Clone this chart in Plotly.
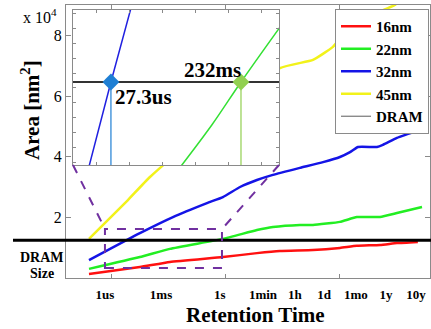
import plotly.graph_objects as go
import math

# x values: log10(retention time in seconds); y values: area in nm^2
red_x = [-7.21, -4.53, -2.95, -0.16, 1.63, 2.84, 4.58, 6.0, 6.89, 8.11, 9.0, 10.1]
red_y = [1300, 3600, 5300, 6900, 8200, 8900, 9200, 9900, 10600, 10900, 11500, 11900]

green_x = [-7.21, -4.53, -2.95, -0.16, 1.63, 2.47, 3.89, 4.58, 6.0, 6.89, 8.11, 9.0, 10.32]
green_y = [3000, 6900, 9600, 12900, 15800, 16800, 17500, 17500, 18500, 20100, 20100, 21400, 23400]

blue_x = [-7.21, -4.53, -2.79, -1.0, -0.16, 0.74, 1.63, 2.47, 3.89, 5.11, 6.0, 6.53, 6.95, 7.95, 8.26, 9.0, 10.32]
blue_y = [5900, 14800, 20100, 24700, 26700, 30000, 32300, 34000, 36300, 38200, 39900, 41500, 43200, 43200, 43900, 46200, 49100]

yellow_x = [-7.21, -5.16, -4.0, 2.84, 4.58, 5.63, 6.26, 7.42, 8.89, 9.16]
yellow_y = [12900, 25700, 33300, 69200, 71900, 76200, 80800, 86100, 90000, 91700]

dram_area = 12460

# inset (zoomed) data
inset_blue_x = [-5.26, math.log10(27.3e-6), -3.94]
inset_blue_y = [9500, dram_area, 15000]
inset_green_x = [-2.45, -1.5, math.log10(0.232), 0.55]
inset_green_y = [9650, 11050, dram_area, 14300]
cross_x = [math.log10(27.3e-6), math.log10(0.232)]
cross_labels = ["27.3us", "232ms"]

tick_labels = ["1us", "1ms", "1s", "1min", "1h", "1d", "1mo", "1y", "10y"]
tick_pos = [-6.37, -3.42, -0.32, 1.95, 3.63, 5.16, 6.84, 8.42, 10.0]

SERIF = "Liberation Serif"
GRAY = "#8a8a8a"

fig = go.Figure()
series = [("16nm", red_x, red_y, "#ff1010"), ("22nm", green_x, green_y, "#22ee22"),
          ("32nm", blue_x, blue_y, "#1414e6"), ("45nm", yellow_x, yellow_y, "#f2f21a")]
for name, xs, ys, c in series:
    fig.add_trace(go.Scatter(x=xs, y=ys, mode="lines", name=name,
                             line=dict(color=c, width=2.5, shape="spline", smoothing=0.4),
                             xaxis="x", yaxis="y"))
fig.add_trace(go.Scatter(x=[None], y=[None], mode="lines", name="DRAM",
                         line=dict(color="#777777", width=1.2), xaxis="x", yaxis="y"))

# inset
x2_range = [-5.71, 0.514]
y2_range = [9693, 14860]
fig.add_trace(go.Scatter(x=x2_range, y=[dram_area, dram_area], mode="lines", showlegend=False,
                         line=dict(color="#333333", width=2), xaxis="x2", yaxis="y2"))
fig.add_trace(go.Scatter(x=inset_blue_x, y=inset_blue_y, mode="lines", showlegend=False,
                         line=dict(color="#2020e0", width=1.5), xaxis="x2", yaxis="y2"))
fig.add_trace(go.Scatter(x=inset_green_x, y=inset_green_y, mode="lines", showlegend=False,
                         line=dict(color="#33e033", width=1.5, shape="spline"), xaxis="x2", yaxis="y2"))
mk_colors = ["#1f7fd4", "#92d050"]
for cx, mc in zip(cross_x, mk_colors):
    fig.add_trace(go.Scatter(x=[cx, cx], y=[y2_range[0] - 500, dram_area], mode="lines", showlegend=False,
                             line=dict(color=mc, width=1.2), xaxis="x2", yaxis="y2"))
fig.add_trace(go.Scatter(x=cross_x, y=[dram_area, dram_area], mode="markers", showlegend=False,
                         marker=dict(symbol="diamond", size=13, color=mk_colors), xaxis="x2", yaxis="y2"))

L, R, T, B = 66, 1, 5, 51
W, H = 431, 329
pw, ph = W - L - R, H - T - B
def px(xp):
    return (xp - L) / pw
def py(yp):
    return (H - B - yp) / ph

fig.update_layout(
    width=W, height=H, margin=dict(l=L, r=R, t=T, b=B, autoexpand=False),
    paper_bgcolor="white", plot_bgcolor="white",
    font=dict(family=SERIF, color="black"),
    showlegend=True,
    legend=dict(x=px(429), y=py(9), xanchor="right", yanchor="top",
                bgcolor="white", bordercolor=GRAY, borderwidth=1,
                font=dict(family=SERIF, size=15, weight="bold"),
                tracegroupgap=0, itemwidth=30),
    xaxis=dict(domain=[0, 1], range=[-8.42, 10.74], showgrid=False, zeroline=False, automargin=False,
               showline=True, linecolor=GRAY, linewidth=1, mirror="ticks",
               tickmode="array", tickvals=tick_pos, ticktext=tick_labels, ticks="",
               tickfont=dict(family=SERIF, size=13, weight="bold"), ticklabelstandoff=4,
               minor=dict(tickvals=[-6, 0, 6], ticks="inside", ticklen=4, tickcolor=GRAY)),
    yaxis=dict(domain=[0, 1], range=[0, 90000], showgrid=False, zeroline=False, automargin=False,
               showline=True, linecolor=GRAY, linewidth=1, mirror="ticks",
               tickmode="array", tickvals=[20000, 40000, 60000, 80000], ticktext=["2", "4", "6", "8"],
               ticks="inside", ticklen=5, tickcolor=GRAY,
               tickfont=dict(family=SERIF, size=16)),
    xaxis2=dict(domain=[px(73), px(279)], anchor="y2", range=x2_range, showgrid=False, zeroline=False,
                showline=True, linecolor=GRAY, linewidth=1, mirror="ticks",
                tickmode="linear", tick0=0, dtick=1, ticks="inside", ticklen=3, tickcolor=GRAY,
                showticklabels=False),
    yaxis2=dict(domain=[py(165), py(10)], anchor="x2", range=y2_range, showgrid=False, zeroline=False,
                showline=True, linecolor=GRAY, linewidth=1, mirror="ticks",
                tickmode="linear", tick0=12260, dtick=500, ticks="inside", ticklen=3, tickcolor=GRAY,
                showticklabels=False),
)

shapes = [
    dict(type="line", xref="paper", yref="y", x0=px(13), x1=px(431), y0=dram_area, y1=dram_area,
         line=dict(color="black", width=3)),
    dict(type="rect", xref="x", yref="y", x0=-6.37, x1=-0.21, y0=3300, y1=16150,
         line=dict(color="#7030a0", width=2, dash="dash")),
    dict(type="line", xref="paper", yref="paper", x0=px(73), y0=py(165), x1=px(105), y1=py(229),
         line=dict(color="#7030a0", width=2, dash="dash")),
    dict(type="line", xref="paper", yref="paper", x0=px(279), y0=py(165), x1=px(222), y1=py(229),
         line=dict(color="#7030a0", width=2, dash="dash")),
]
fig.update_layout(shapes=shapes)

ann = [
    dict(text="Area [nm<sup>2</sup>]", x=px(31), y=py(110), textangle=-90,
         font=dict(size=21, weight="bold")),
    dict(text="x 10<sup>4</sup>", x=px(40), y=py(16), font=dict(size=16)),
    dict(text="Retention Time", x=px(255), y=py(315), font=dict(size=21, weight="bold")),
    dict(text="DRAM", x=px(42), y=py(257), font=dict(size=14, weight="bold")),
    dict(text="Size", x=px(42), y=py(273), font=dict(size=14, weight="bold")),
    dict(text=cross_labels[0], x=px(143.5), y=py(97), font=dict(size=21, weight="bold")),
    dict(text=cross_labels[1], x=px(212.5), y=py(70), font=dict(size=21, weight="bold")),
]
for a in ann:
    a.update(xref="paper", yref="paper", showarrow=False, xanchor="center", yanchor="middle")
    a["font"]["family"] = SERIF
    a["font"]["color"] = "black"
fig.update_layout(annotations=ann)

fig.write_html("out.html", config={"displayModeBar": False},
               post_script="document.body.style.margin='0';")
